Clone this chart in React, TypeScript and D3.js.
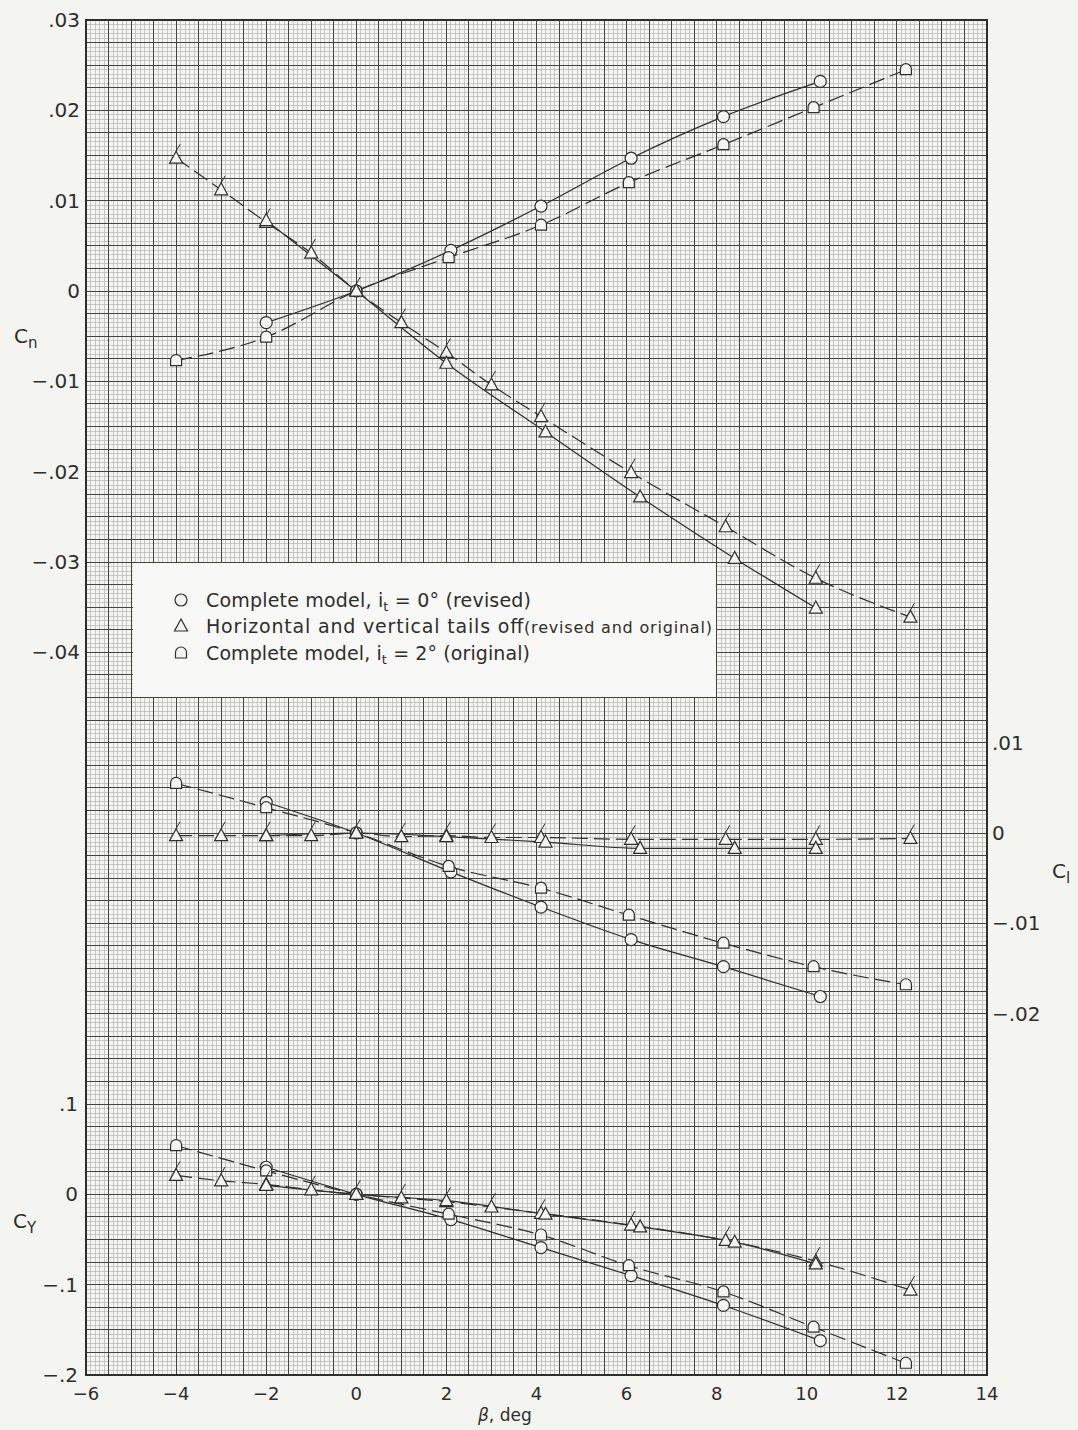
import React from 'react';
import * as d3 from 'd3';

// Complete model, it = 0 deg (revised) -- circles, solid
const betaCirc = [-2, 0, 2.1, 4.1, 6.1, 8.15, 10.3];
const cnCirc = [-0.0035, 0, 0.0045, 0.0094, 0.0147, 0.0193, 0.0232];
const clCirc = [0.0034, 0, -0.0043, -0.0082, -0.0118, -0.0148, -0.0181];
const cyCirc = [0.03, 0, -0.028, -0.059, -0.09, -0.123, -0.162];

// Complete model, it = 2 deg (original) -- squares, dashed
const betaSq = [-4, -2, 0, 2.05, 4.1, 6.05, 8.15, 10.15, 12.2];
const cnSq = [-0.0077, -0.0051, 0, 0.0037, 0.0073, 0.012, 0.0162, 0.0203, 0.0245];
const clSq = [0.0055, 0.0028, 0, -0.0037, -0.0061, -0.0091, -0.0122, -0.0148, -0.0168];
const cySq = [0.054, 0.026, 0, -0.022, -0.045, -0.079, -0.108, -0.147, -0.187];

// Tails off, original -- flagged triangles, dashed
const betaTriO = [-4, -3, -2, -1, 0, 1, 2, 3, 4.1, 6.1, 8.2, 10.2, 12.3];
const cnTriO = [0.0147, 0.0112, 0.0076, 0.0042, 0, -0.0035, -0.0068, -0.0104, -0.0139, -0.0201, -0.0261, -0.0318, -0.0361];
const clTriO = [-0.0003, -0.0003, -0.0003, -0.0003, 0, -0.0004, -0.0003, -0.0005, -0.0005, -0.0007, -0.0007, -0.0007, -0.0006];
const cyTriO = [0.021, 0.015, 0.011, 0.005, 0, -0.004, -0.008, -0.014, -0.021, -0.034, -0.051, -0.074, -0.106];

// Tails off, revised -- plain triangles, solid
const betaTriR = [-2, 0, 2, 4.2, 6.3, 8.4, 10.2];
const cnTriR = [0.0078, 0, -0.008, -0.0156, -0.0228, -0.0296, -0.0351];
const clTriR = [-0.0003, 0, -0.0004, -0.001, -0.0017, -0.0017, -0.0017];
const cyTriR = [0.01, 0, -0.007, -0.022, -0.036, -0.053, -0.077];

const xTicks = [-6, -4, -2, 0, 2, 4, 6, 8, 10, 12, 14];
const xLabels = ['\u22126', '\u22124', '\u22122', '0', '2', '4', '6', '8', '10', '12', '14'];
const cnTicks = [0.03, 0.02, 0.01, 0, -0.01, -0.02, -0.03, -0.04];
const cnLabels = ['.03', '.02', '.01', '0', '\u2212.01', '\u2212.02', '\u2212.03', '\u2212.04'];
const clTicks = [0.01, 0, -0.01, -0.02];
const clLabels = ['.01', '0', '\u2212.01', '\u2212.02'];
const cyTicks = [0.1, 0, -0.1, -0.2];
const cyLabels = ['.1', '0', '\u2212.1', '\u2212.2'];

const W = 1078, H = 1430;
const left = 86, right = 987, top = 20, bottom = 1375;
const ink = '#2e2e2a';
const paper = '#f4f4f1';
const font = '"DejaVu Sans", sans-serif';

const x = d3.scaleLinear().domain([-6, 14]).range([left, right]);
const yCn = d3.scaleLinear().domain([0.03, -0.12]).range([top, bottom]);
const yCl = d3.scaleLinear().domain([0.09, -0.06]).range([top, bottom]);
const yCY = d3.scaleLinear().domain([1.3, -0.2]).range([top, bottom]);
const yU = d3.scaleLinear().domain([0, 15]).range([top, bottom]);

type Mark = 'circle' | 'tri' | 'sq';
const series: { beta: number[]; v: number[]; y: d3.ScaleLinear<number, number>; dash?: string; mark: Mark; flag?: boolean }[] = [
  { beta: betaCirc, v: cnCirc, y: yCn, mark: 'circle' },
  { beta: betaSq, v: cnSq, y: yCn, mark: 'sq', dash: '16 6' },
  { beta: betaTriO, v: cnTriO, y: yCn, mark: 'tri', dash: '16 6', flag: true },
  { beta: betaTriR, v: cnTriR, y: yCn, mark: 'tri' },
  { beta: betaCirc, v: clCirc, y: yCl, mark: 'circle' },
  { beta: betaSq, v: clSq, y: yCl, mark: 'sq', dash: '16 6' },
  { beta: betaTriO, v: clTriO, y: yCl, mark: 'tri', dash: '16 6', flag: true },
  { beta: betaTriR, v: clTriR, y: yCl, mark: 'tri' },
  { beta: betaCirc, v: cyCirc, y: yCY, mark: 'circle' },
  { beta: betaSq, v: cySq, y: yCY, mark: 'sq', dash: '16 6' },
  { beta: betaTriO, v: cyTriO, y: yCY, mark: 'tri', dash: '16 6', flag: true },
  { beta: betaTriR, v: cyTriR, y: yCY, mark: 'tri' },
];

const triPath = 'M0,-7L6.5,5L-6.5,5Z';
const sqPath = 'M-5.5,5L-5.5,-0.5A5.5,5.5 0 0 1 5.5,-0.5L5.5,5Z';

function Marker({ mark, cx, cy, flag }: { mark: Mark; cx: number; cy: number; flag?: boolean }) {
  const common = { fill: paper, stroke: ink, strokeWidth: 1.2 };
  return (
    <g transform={`translate(${cx},${cy})`}>
      {mark === 'circle' && <circle r={6} {...common} />}
      {mark === 'tri' && <path d={triPath} {...common} />}
      {mark === 'sq' && <path d={sqPath} {...common} />}
      {flag && <line x1={0} y1={-7} x2={4} y2={-14} stroke={ink} strokeWidth={1} />}
    </g>
  );
}

export default function App() {
  const fineX = d3.range(-6, 14.001, 0.1);
  const fineY = d3.range(0, 15.001, 0.05);
  const heavyX = d3.range(-6, 14.001, 0.5);
  const heavyY = d3.range(0, 15.001, 0.25);

  return (
    <svg width={W} height={H} style={{ position: 'absolute', left: 0, top: 0 }} fontFamily={font}>
      <rect width={W} height={H} fill={paper} />
      <g shapeRendering="crispEdges">
        {fineX.map((b, i) => (
          <line key={'fx' + i} x1={x(b)} x2={x(b)} y1={top} y2={bottom} stroke="#aeaea8" strokeWidth={0.6} />
        ))}
        {fineY.map((u, i) => (
          <line key={'fy' + i} x1={left} x2={right} y1={yU(u)} y2={yU(u)} stroke="#aeaea8" strokeWidth={0.6} />
        ))}
        {heavyX.map((b, i) => (
          <line key={'hx' + i} x1={x(b)} x2={x(b)} y1={top} y2={bottom} stroke="#44443e" strokeWidth={1} />
        ))}
        {heavyY.map((u, i) => (
          <line key={'hy' + i} x1={left} x2={right} y1={yU(u)} y2={yU(u)} stroke="#44443e" strokeWidth={1} />
        ))}
        <rect x={left} y={top} width={right - left} height={bottom - top} fill="none" stroke={ink} strokeWidth={2} />
      </g>

      {/* legend */}
      <rect x={133} y={563} width={583} height={134} fill="#f8f8f6" />
      <g fontSize={19} fill={ink}>
        <Marker mark="circle" cx={181} cy={600} />
        <Marker mark="tri" cx={181} cy={626} />
        <Marker mark="sq" cx={181} cy={653} />
        <text x={206} y={607} textLength={325} lengthAdjust="spacing">
          Complete  model, i<tspan fontSize={13} dy={4}>t</tspan><tspan dy={-4}> = 0° (revised)</tspan>
        </text>
        <text x={206} y={633} textLength={506} lengthAdjust="spacing">
          Horizontal and vertical tails off<tspan fontSize={16}>(revised and original)</tspan>
        </text>
        <text x={206} y={660} textLength={324} lengthAdjust="spacing">
          Complete  model, i<tspan fontSize={13} dy={4}>t</tspan><tspan dy={-4}> = 2° (original)</tspan>
        </text>
      </g>

      {/* curves */}
      {series.map((s, i) => {
        const pts = s.beta.map((b, j) => [b, s.v[j]] as [number, number]);
        const line = d3.line<[number, number]>().x(d => x(d[0])).y(d => s.y(d[1])).curve(d3.curveMonotoneX);
        return <path key={'l' + i} d={line(pts) || ''} fill="none" stroke={ink} strokeWidth={1.2} strokeDasharray={s.dash} />;
      })}
      {series.map((s, i) =>
        s.beta.map((b, j) => (
          <Marker key={'m' + i + '-' + j} mark={s.mark} cx={x(b)} cy={s.y(s.v[j])} flag={s.flag} />
        ))
      )}

      {/* tick labels */}
      <g fontSize={20} fill={ink}>
        {cnTicks.map((t, i) => (
          <text key={'cn' + i} x={80} y={yCn(t)} textAnchor="end" dominantBaseline="central">{cnLabels[i]}</text>
        ))}
        {cyTicks.map((t, i) => (
          <text key={'cy' + i} x={78} y={yCY(t)} textAnchor="end" dominantBaseline="central">{cyLabels[i]}</text>
        ))}
        {clTicks.map((t, i) => (
          <text key={'cl' + i} x={992} y={yCl(t)} textAnchor="start" dominantBaseline="central">{clLabels[i]}</text>
        ))}
      </g>
      <g fontSize={18} fill={ink}>
        {xTicks.map((t, i) => (
          <text key={'x' + i} x={x(t)} y={1400} textAnchor="middle">{xLabels[i]}</text>
        ))}
      </g>

      {/* axis titles */}
      <g fontSize={20} fill={ink}>
        <text x={14} y={343}>C<tspan fontSize={15} dy={5}>n</tspan></text>
        <text x={1052} y={878}>C<tspan fontSize={15} dy={5}>l</tspan></text>
        <text x={13} y={1228}>C<tspan fontSize={15} dy={5}>Y</tspan></text>
        <text x={478} y={1421} fontSize={17}><tspan fontStyle="italic">β</tspan>, deg</text>
      </g>
    </svg>
  );
}
